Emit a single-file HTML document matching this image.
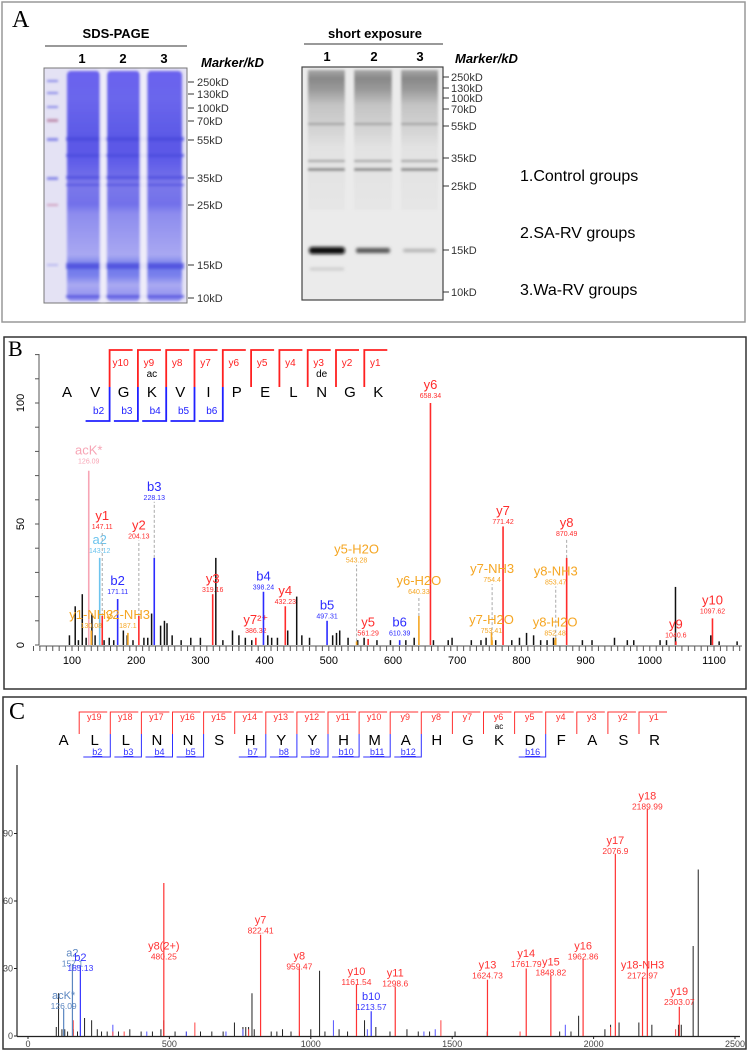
<!DOCTYPE html>
<html><head><meta charset="utf-8"><style>
html,body{margin:0;padding:0;background:#fff}
svg{display:block;font-family:"Liberation Sans",sans-serif}
</style></head><body>
<svg id="fig" width="749" height="1052" viewBox="0 0 749 1052" xmlns="http://www.w3.org/2000/svg">
<defs>
<filter id="blur1" x="-10%" y="-10%" width="120%" height="120%"><feGaussianBlur stdDeviation="1.2"/></filter>
<filter id="blur2" x="-10%" y="-50%" width="120%" height="200%"><feGaussianBlur stdDeviation="1.6"/></filter>
<linearGradient id="sdsLane" x1="0" y1="0" x2="0" y2="1">
<stop offset="0" stop-color="#6a62ee"/><stop offset="0.12" stop-color="#6b66ec"/><stop offset="0.3" stop-color="#5a58e6"/><stop offset="0.38" stop-color="#5d5ae8"/><stop offset="0.5" stop-color="#7b78ea"/><stop offset="0.58" stop-color="#7270ea"/><stop offset="0.62" stop-color="#8d8cee"/><stop offset="0.8" stop-color="#a9a8f2"/><stop offset="0.85" stop-color="#6c78ea"/><stop offset="0.89" stop-color="#7a80ec"/><stop offset="0.93" stop-color="#aaaaf2"/><stop offset="1" stop-color="#8a88ee"/>
</linearGradient>
<linearGradient id="wbLane" x1="0" y1="0" x2="0" y2="1">
<stop offset="0" stop-color="#a8a8a8"/><stop offset="0.06" stop-color="#888"/><stop offset="0.14" stop-color="#9a9a9a"/><stop offset="0.25" stop-color="#c4c4c4"/><stop offset="0.45" stop-color="#d6d6d6"/><stop offset="0.55" stop-color="#e2e2e2"/><stop offset="1" stop-color="#e6e6e6"/>
</linearGradient>
</defs>

<!-- PANEL A -->
<g>
<rect x="2" y="2" width="743" height="320" fill="none" stroke="#999" stroke-width="1.5"/>
<text x="12" y="27" font-family="Liberation Serif,serif" font-size="24">A</text>
<text x="116" y="38" text-anchor="middle" font-size="13" font-weight="bold">SDS-PAGE</text>
<line x1="45" y1="46" x2="187" y2="46" stroke="#333" stroke-width="1"/>
<g font-size="13" font-weight="bold" text-anchor="middle">
<text x="82" y="63">1</text><text x="123" y="63">2</text><text x="164" y="63">3</text></g>
<text x="201" y="67" font-size="13" font-weight="bold" font-style="italic">Marker/kD</text>
<g>
<rect x="44" y="68" width="143" height="235" fill="#e4e2f4" stroke="#777" stroke-width="1"/>
<g filter="url(#blur1)">
<rect x="67" y="71" width="33" height="230" rx="4" fill="url(#sdsLane)"/>
<rect x="107" y="71" width="33" height="230" rx="4" fill="url(#sdsLane)"/>
<rect x="147" y="71" width="35" height="230" rx="4" fill="url(#sdsLane)"/>
<g fill="#4848dc" opacity="0.7">
<rect x="66" y="137" width="118" height="4"/><rect x="66" y="154" width="118" height="3"/><rect x="66" y="176" width="118" height="3"/><rect x="66" y="184" width="118" height="2"/><rect x="66" y="263" width="118" height="6"/><rect x="66" y="295" width="118" height="3"/></g>
<g fill="#f0eefa" opacity="0.9"><rect x="100" y="70" width="6" height="232"/><rect x="140" y="70" width="7" height="232"/></g>
<g fill="#8a8ae8">
<rect x="47" y="80" width="11" height="2"/><rect x="47" y="92" width="11" height="2"/><rect x="47" y="106" width="11" height="2"/><rect x="47" y="119" width="11" height="3" fill="#c090b0"/><rect x="47" y="138" width="11" height="3"/><rect x="47" y="177" width="11" height="3"/><rect x="47" y="204" width="11" height="2" fill="#d0a0c0"/><rect x="47" y="264" width="11" height="2" fill="#b8b8f0"/></g>
</g></g>
<g id="sdsTicks"></g>
<text x="375" y="38" text-anchor="middle" font-size="13" font-weight="bold">short exposure</text>
<line x1="304" y1="44" x2="443" y2="44" stroke="#333" stroke-width="1"/>
<g font-size="13" font-weight="bold" text-anchor="middle">
<text x="327" y="61">1</text><text x="374" y="61">2</text><text x="420" y="61">3</text></g>
<text x="455" y="63" font-size="13" font-weight="bold" font-style="italic">Marker/kD</text>
<g>
<rect x="302" y="67" width="141" height="233" fill="#ebebeb" stroke="#444" stroke-width="1.2"/>
<g filter="url(#blur1)">
<rect x="308" y="70" width="37" height="140" fill="url(#wbLane)"/><rect x="354" y="70" width="38" height="140" fill="url(#wbLane)"/><rect x="401" y="70" width="37" height="140" fill="url(#wbLane)"/>
<g fill="#9c9c9c"><rect x="308" y="123" width="130" height="2"/><rect x="308" y="160" width="130" height="2"/><rect x="308" y="168" width="130" height="3" fill="#8a8a8a"/></g>
<g fill="#ebebeb"><rect x="345" y="70" width="9" height="110"/><rect x="392" y="70" width="9" height="110"/></g>
</g>
<g filter="url(#blur2)">
<rect x="309" y="247" width="36" height="7" rx="3" fill="#0a0a0a"/>
<rect x="356" y="248" width="34" height="5" rx="2" fill="#555"/>
<rect x="403" y="249" width="33" height="3" rx="2" fill="#aaa"/>
<rect x="310" y="268" width="34" height="2" fill="#bdbdbd"/>
</g></g>
<g id="wbTicks"></g>
<g font-size="16">
<text x="520" y="181">1.Control groups</text>
<text x="520" y="238">2.SA-RV groups</text>
<text x="520" y="295">3.Wa-RV groups</text>
</g>
</g>

<!-- PANEL B -->
<g>
<rect x="4" y="337" width="742" height="352" fill="none" stroke="#333" stroke-width="1.5"/>
<text x="8" y="356" font-family="Liberation Serif,serif" font-size="22">B</text>
<g id="bSeq"></g>
<g id="bAxes"></g>
<g id="bPeaks"></g>
</g>

<!-- PANEL C -->
<g>
<rect x="3" y="697" width="743" height="352" fill="none" stroke="#333" stroke-width="1.5"/>
<text x="9" y="719" font-family="Liberation Serif,serif" font-size="24">C</text>
<g id="cSeq"></g>
<g id="cAxes"></g>
<g id="cPeaks"></g>
</g>
</svg>
<script>
// ---- gel markers ----
const sdsMarkers = ["250kD","130kD","100kD","70kD","55kD","35kD","25kD","15kD","10kD"];
const sdsMarkerY = [82,94,108,121,140,178,205,265,298];
const wbMarkers = ["250kD","130kD","100kD","70kD","55kD","35kD","25kD","15kD","10kD"];
const wbMarkerY = [77,88,98,109,126,158,186,250,292];

// ---- spectrum B data ----
const bSeq = ["A","V","G","K","V","I","P","E","L","N","G","K"];
const bMods = ["","","","ac","","","","","","de","",""];
const bYIons = ["y10","y9","y8","y7","y6","y5","y4","y3","y2","y1"];
const bBIons = ["b2","b3","b4","b5","b6"];
const bXTicks = [100,200,300,400,500,600,700,800,900,1000,1100];
const bYTicks = [0,50,100];
const bIonMz = [126.09,143.12,147.11,171.11,204.13,228.13,319.16,386.32,398.24,432.23,497.31,561.29,610.39,658.34,640.33,543.28,771.42,754.4,753.41,870.49,853.47,852.48,1040.6,1097.62,130.08,187.1];
const bIonInt = [72,36,12,19,12,36,21,3,22,16,10,2.5,2,100,12,1.5,49,2,5,36,3,2,1.5,11,6,5];
const bIonName = ["acK*","a2","y1","b2","y2","b3","y3","y7²⁺","b4","y4","b5","y5","b6","y6","y6-H2O","y5-H2O","y7","y7-NH3","y7-H2O","y8","y8-NH3","y8-H2O","y9","y10","y1-NH3","y2-NH3"];
const bIonType = ["pink","cyan","y","b","y","b","y","y","b","y","b","y","b","y","o","o","y","o","o","y","o","o","y","y","o","o"];
const bLabelInt = [75,38,48,21,44,60,22,5,23,17,11,4,4,102,21,34,50,26,5,45,25,4,3,13,7,7];
const bNoiseMz = [96,105,110,116,122,131,136,150,158,165,180,186,195,212,218,224,238,244,248,256,270,285,300,324,335,350,360,370,380,405,411,420,436,450,458,470,506,512,517,530,545,555,575,596,620,633,663,686,692,722,737,745,760,785,797,808,819,830,840,850,895,910,945,965,975,1016,1026,1040,1095,1108,1136];
const bNoiseInt = [4,16,2,21,3,13,4,2,3,2,6,4,2,3,3,13,8,10,9,4,2,3,3,36,2,6,4,3,2,4,3,3,6,20,4,3,4,5,6,3,2,3,2,2,2,3,2,2,3,2,2,3,2,2,3,5,4,2,2,3,2,2,3,2,2,2,2,24,4,1.5,1.5];

// ---- spectrum C data ----
const cSeq = ["A","L","L","N","N","S","H","Y","Y","H","M","A","H","G","K","D","F","A","S","R"];
const cMods = ["","","","","","","","","","","","","","","ac","","","","",""];
const cBIdx = [2,3,4,5,7,8,9,10,11,12,16];
const cXTicks = [0,500,1000,1500,2000,2500];
const cYTicks = [0,30,60,90];
const cIonMz = [126.09,157.1,185.13,480.25,822.41,959.47,1161.54,1213.57,1298.6,1624.73,1761.79,1848.82,1962.86,2076.9,2172.97,2189.99,2303.07];
const cIonInt = [12,32,31,68,45,30,23,11,22,25,30,27,34,81,26,101,13];
const cIonName = ["acK*","a2","b2","y8(2+)","y7","y8","y10","b10","y11","y13","y14","y15","y16","y17","y18-NH3","y18","y19"];
const cIonType = ["steel","steel","b","y","y","y","y","b","y","y","y","y","y","y","y","y","y"];
const cLabelInt = [12,31,29,34,45.5,29.5,22.6,11.5,22,25.5,30.7,27,34,81,25.5,100.7,13.7];
const cNoiseMz = [100,108,120,130,140,160,175,200,225,245,260,280,320,360,400,440,470,480,520,560,610,650,690,730,760,770,780,792,800,860,880,900,930,960,1000,1031,1050,1100,1130,1190,1230,1280,1340,1380,1420,1510,1624,1880,1920,1947,2040,2060,2090,2160,2206,2300,2310,2352,2370];
const cNoiseInt = [4,19,3,3,2,3,2,8,7,3,2,2,2,3,2,2,3,7,2,2,2,2,2,6,4,4,4,19,3,2,2,3,2,2,3,29,2,3,2,7,4,2,3,2,2,2,2,2,2,9,3,5,6,6,5,5,5,40,74];
const cNoiseBlueMz = [300,420,560,700,760,1080,1200,1400,1440,1900];
const cNoiseBlueInt = [5,2,2,2,3,7,3,2,3,5];
const cNoiseRedMz = [160,300,340,590,780,1460,1740,2060,2290];
const cNoiseRedInt = [7,2,2,6,3,7,2,4,3];

const NS = "http://www.w3.org/2000/svg";
function mk(parent, tag, attrs, txt){const e=document.createElementNS(NS,tag);for(const k in attrs)e.setAttribute(k,attrs[k]);if(txt!==undefined)e.textContent=txt;parent.appendChild(e);return e;}

// gel ticks
const sdsT=document.getElementById('sdsTicks');
sdsMarkers.forEach((m,i)=>{const l=mk(sdsT,'line',{x1:188,x2:194,y1:sdsMarkerY[i],y2:sdsMarkerY[i],stroke:'#333'});


const t=mk(sdsT,'text',{x:197,y:sdsMarkerY[i]+4,'font-size':11,fill:'#333'},m);

});
const wbT=document.getElementById('wbTicks');
wbMarkers.forEach((m,i)=>{const l=mk(wbT,'line',{x1:443,x2:449,y1:wbMarkerY[i],y2:wbMarkerY[i],stroke:'#333'});


const t=mk(wbT,'text',{x:451,y:wbMarkerY[i]+4,'font-size':11,fill:'#333'},m);

});

const colors={y:'#ff2b2b',b:'#2b2bff',o:'#f5a623',pink:'#f7a5b5',cyan:'#6cc4ee',steel:'#5b86c0'};

// ===== Panel B =====
const xB=m=>72+(m-100)*0.642;
const yB=v=>645-v*2.42;
(function(){
const ax=document.getElementById('bAxes');
let e=mk(ax,'line',{x1:39,x2:39,y1:354,y2:yB(0),stroke:'#555'});


for(let v=0;v<=120;v+=10){mk(ax,'line',{x1:35,x2:39,y1:yB(v),y2:yB(v),stroke:'#555'});}
bYTicks.forEach(v=>{const t=mk(ax,'text',{x:0,y:0,'font-size':11,'text-anchor':'middle',transform:`translate(24,${yB(v)}) rotate(-90)`},String(v));

});
e=mk(ax,'line',{x1:39,x2:742,y1:yB(0)+1,y2:yB(0)+1,stroke:'#555'});


for(let m=40;m<=1140;m+=10){mk(ax,'line',{x1:xB(m),x2:xB(m),y1:yB(0)+1,y2:yB(0)+6,stroke:'#555'});}
bXTicks.forEach(m=>{const t=mk(ax,'text',{x:xB(m),y:yB(0)+19,'font-size':11,'text-anchor':'middle'},String(m));

});
// sequence
const sq=document.getElementById('bSeq');
const lx=i=>67+i*28.3;
bSeq.forEach((a,i)=>{const t=mk(sq,'text',{x:lx(i),y:397,'font-size':15,'text-anchor':'middle'},a);


if(bMods[i]){mk(sq,'text',{x:lx(i),y:377,'font-size':10,'text-anchor':'middle'},bMods[i]);}});
bYIons.forEach((n,j)=>{const k=j+2;const bx=lx(k)-14;
const p=mk(sq,'path',{d:`M${bx},387 V350 H${bx+23}`,fill:'none',stroke:'#ff2020','stroke-width':1.8});


mk(sq,'text',{x:bx+11,y:366,'font-size':10,fill:'#ff2020','text-anchor':'middle'},n);});
bBIons.forEach((n,j)=>{const k=j+2;const bx=lx(k)-14;
const p=mk(sq,'path',{d:`M${bx-24},421 H${bx} V387`,fill:'none',stroke:'#2020ff','stroke-width':1.8});


mk(sq,'text',{x:bx-11,y:414,'font-size':10,fill:'#2020ff','text-anchor':'middle'},n);});
// peaks
const pk=document.getElementById('bPeaks');
bNoiseMz.forEach((m,i)=>{const l=mk(pk,'line',{x1:xB(m),x2:xB(m),y1:yB(0),y2:yB(bNoiseInt[i]),stroke:'#111','stroke-width':1.5});

});
bIonMz.forEach((m,i)=>{const c=colors[bIonType[i]];const x=xB(m);
const l=mk(pk,'line',{x1:x,x2:x,y1:yB(0),y2:yB(bIonInt[i]),stroke:c,'stroke-width':1.6});


const ly=yB(bLabelInt[i]);
if(bLabelInt[i]>bIonInt[i]+3){mk(pk,'line',{x1:x,x2:x,y1:yB(bIonInt[i]),y2:ly+2,stroke:'#aaa','stroke-dasharray':'3,2'});}
const t=mk(pk,'text',{x:x,y:ly-9,'font-size':13,fill:c,'text-anchor':'middle'},bIonName[i]);


mk(pk,'text',{x:x,y:ly,'font-size':7,fill:c,'text-anchor':'middle'},m.toFixed(2).replace(/\.?0+$/,''));});
})();

// ===== Panel C =====
const xC=m=>28+m*0.2828;
const yC=v=>1036-v*2.25;
(function(){
const ax=document.getElementById('cAxes');
let e=mk(ax,'line',{x1:17,x2:17,y1:765,y2:yC(0),stroke:'#222','stroke-width':1.2});


cYTicks.forEach(v=>{mk(ax,'line',{x1:14,x2:17,y1:yC(v),y2:yC(v),stroke:'#222'});
const t=mk(ax,'text',{x:13,y:yC(v)+3,'font-size':9,'text-anchor':'end',fill:'#444'},String(v));

});
e=mk(ax,'line',{x1:17,x2:740,y1:yC(0)+0.5,y2:yC(0)+0.5,stroke:'#222','stroke-width':1.2});


cXTicks.forEach(m=>{mk(ax,'line',{x1:xC(m),x2:xC(m),y1:yC(0),y2:yC(0)+3,stroke:'#222'});
const t=mk(ax,'text',{x:xC(m),y:yC(0)+11,'font-size':9,'text-anchor':'middle',fill:'#444'},String(m));

});
const sq=document.getElementById('cSeq');
const lx=i=>63.6+i*31.1;
cSeq.forEach((a,i)=>{const t=mk(sq,'text',{x:lx(i),y:745,'font-size':15,'text-anchor':'middle'},a);


if(cMods[i]){mk(sq,'text',{x:lx(i),y:729,'font-size':8,'text-anchor':'middle'},cMods[i]);}});
for(let k=1;k<=19;k++){const bx=lx(k)-15.5;
const p=mk(sq,'path',{d:`M${bx},734 V712 H${bx+28}`,fill:'none',stroke:'#ff3030','stroke-width':1});


mk(sq,'text',{x:bx+15,y:720,'font-size':9,fill:'#ff3030','text-anchor':'middle'},'y'+(20-k));}
cBIdx.forEach(k=>{const bx=lx(k)-15.5;
const p=mk(sq,'path',{d:`M${bx-27},757 H${bx} V734`,fill:'none',stroke:'#3030ff','stroke-width':1});


mk(sq,'text',{x:bx-13,y:755,'font-size':9,fill:'#3030ff','text-anchor':'middle','text-decoration':'underline'},'b'+k);});
const pk=document.getElementById('cPeaks');
function bars(mz,ints,col,name){mz.forEach((m,i)=>{const l=mk(pk,'line',{x1:xC(m),x2:xC(m),y1:yC(0),y2:yC(ints[i]),stroke:col,'stroke-width':1});

});}
bars(cNoiseMz,cNoiseInt,'#222','noise-peak');
bars(cNoiseBlueMz,cNoiseBlueInt,'#5555ff','noise-peak-b');
bars(cNoiseRedMz,cNoiseRedInt,'#ff4444','noise-peak-y');
cIonMz.forEach((m,i)=>{const c=cIonType[i]==='y'?'#ff3333':cIonType[i]==='b'?'#3333ff':colors.steel;const x=xC(m);
const l=mk(pk,'line',{x1:x,x2:x,y1:yC(0),y2:yC(cIonInt[i]),stroke:c,'stroke-width':1.2});


const ly=yC(cLabelInt[i]);
const t=mk(pk,'text',{x:x,y:ly-10,'font-size':11,fill:c,'text-anchor':'middle'},cIonName[i]);


mk(pk,'text',{x:x,y:ly,'font-size':8.5,fill:c,'text-anchor':'middle'},String(m));});
})();
</script>
</body></html>
